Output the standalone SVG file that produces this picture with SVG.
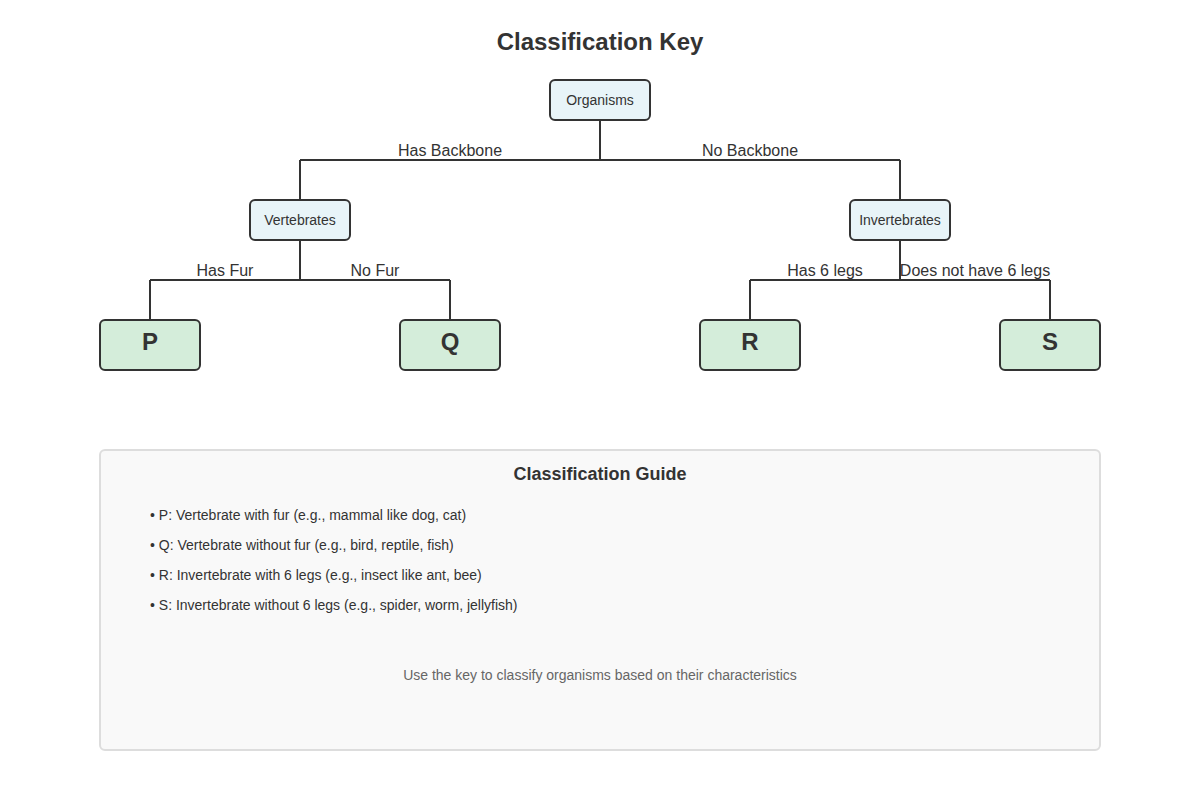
<svg xmlns="http://www.w3.org/2000/svg" width="1200" height="800" viewBox="0 0 1200 800">
<style>
text{font-family:"Liberation Sans",Arial,sans-serif;fill:#333}
.title{font-size:24px;font-weight:bold}
.node rect{fill:#e8f4f8;stroke:#333;stroke-width:2}
.leaf rect{fill:#d4edda;stroke:#333;stroke-width:2}
.nt{font-size:14px}
.lt{font-size:24px;font-weight:bold}
.el{font-size:16px}
.conn path{fill:none;stroke:#333;stroke-width:2}
.gi{font-size:14px}
</style>
<rect width="1200" height="800" fill="#fff"/>
<text class="title" x="600" y="50" text-anchor="middle">Classification Key</text>
<g id="connectors" class="conn">
<path d="M600 120V160M300 160H900M300 160V200M900 160V200"/>
<path d="M300 240V280M150 280H450M150 280V320M450 280V320"/>
<path d="M900 240V280M750 280H1050M750 280V320M1050 280V320"/>
<text class="el" x="450" y="156" text-anchor="middle">Has Backbone</text>
<text class="el" x="750" y="156" text-anchor="middle">No Backbone</text>
<text class="el" x="225" y="276" text-anchor="middle">Has Fur</text>
<text class="el" x="375" y="276" text-anchor="middle">No Fur</text>
<text class="el" x="825" y="276" text-anchor="middle">Has 6 legs</text>
<text class="el" x="975" y="276" text-anchor="middle">Does not have 6 legs</text>
</g>
<g id="organisms" class="node"><rect x="550" y="80" width="100" height="40" rx="5"/><text class="nt" x="600" y="105" text-anchor="middle">Organisms</text></g>
<g id="vertebrates" class="node"><rect x="250" y="200" width="100" height="40" rx="5"/><text class="nt" x="300" y="225" text-anchor="middle">Vertebrates</text></g>
<g id="invertebrates" class="node"><rect x="850" y="200" width="100" height="40" rx="5"/><text class="nt" x="900" y="225" text-anchor="middle">Invertebrates</text></g>
<g id="P" class="leaf"><rect x="100" y="320" width="100" height="50" rx="5"/><text class="lt" x="150" y="350" text-anchor="middle">P</text></g>
<g id="Q" class="leaf"><rect x="400" y="320" width="100" height="50" rx="5"/><text class="lt" x="450" y="350" text-anchor="middle">Q</text></g>
<g id="R" class="leaf"><rect x="700" y="320" width="100" height="50" rx="5"/><text class="lt" x="750" y="350" text-anchor="middle">R</text></g>
<g id="S" class="leaf"><rect x="1000" y="320" width="100" height="50" rx="5"/><text class="lt" x="1050" y="350" text-anchor="middle">S</text></g>
<g id="guide">
<rect x="100" y="450" width="1000" height="300" rx="5" fill="#f9f9f9" stroke="#ddd" stroke-width="2"/>
<text x="600" y="480" text-anchor="middle" font-size="18" font-weight="bold">Classification Guide</text>
<text class="gi" x="150" y="520">• P: Vertebrate with fur (e.g., mammal like dog, cat)</text>
<text class="gi" x="150" y="550">• Q: Vertebrate without fur (e.g., bird, reptile, fish)</text>
<text class="gi" x="150" y="580">• R: Invertebrate with 6 legs (e.g., insect like ant, bee)</text>
<text class="gi" x="150" y="610">• S: Invertebrate without 6 legs (e.g., spider, worm, jellyfish)</text>
<text x="600" y="680" text-anchor="middle" font-size="14" style="fill:#666">Use the key to classify organisms based on their characteristics</text>
</g>
</svg>
